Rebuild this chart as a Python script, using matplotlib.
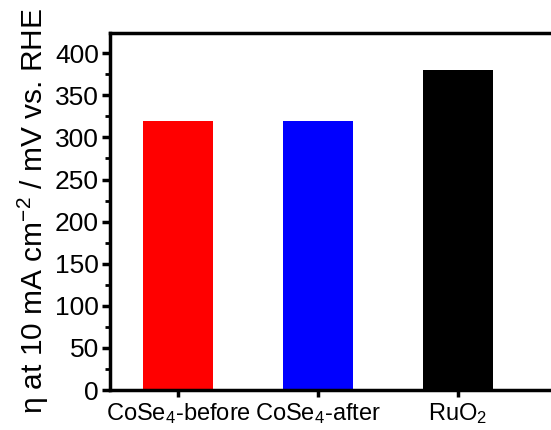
import matplotlib.pyplot as plt
from matplotlib.ticker import MultipleLocator

plt.rcParams['font.family'] = ['Liberation Sans', 'DejaVu Sans']
plt.rcParams['mathtext.fontset'] = 'custom'
plt.rcParams['mathtext.rm'] = 'Liberation Sans'
plt.rcParams['mathtext.it'] = 'Liberation Sans:italic'

# data
samples = ['CoSe$_4$-before', 'CoSe$_4$-after', 'RuO$_2$']
overpotential = [320, 320, 380]
colors = ['#ff0000', '#0000ff', '#000000']

fig = plt.figure(figsize=(5.51, 4.30), dpi=100)
# axes runs off the right edge of the picture (cropped figure)
ax = fig.add_axes([110 / 551, 40 / 430, 441 / 551, 357 / 430])

x = [1, 2, 3]
ax.bar(x, overpotential, width=0.5, color=colors, edgecolor='none')

ax.set_xlim(0.514, 0.514 + 441 / 140)
ax.set_ylim(0, 424)
ax.set_xticks(x)
ax.set_xticklabels(samples, fontsize=17)
ax.yaxis.set_major_locator(MultipleLocator(50))
ax.yaxis.set_minor_locator(MultipleLocator(25))
ax.tick_params(axis='y', labelsize=19, width=2.5, length=6, pad=2)
ax.tick_params(axis='y', which='minor', width=2, length=3.5)
ax.tick_params(axis='x', width=2.5, length=5, pad=3)

for s in ['left', 'bottom', 'top']:
    ax.spines[s].set_linewidth(2.5)
ax.spines['right'].set_visible(False)

ax.set_ylabel('η at 10 mA cm$^{-2}$ / mV vs. RHE', fontsize=21.5, labelpad=3)

fig.savefig('out.png', dpi=100)
